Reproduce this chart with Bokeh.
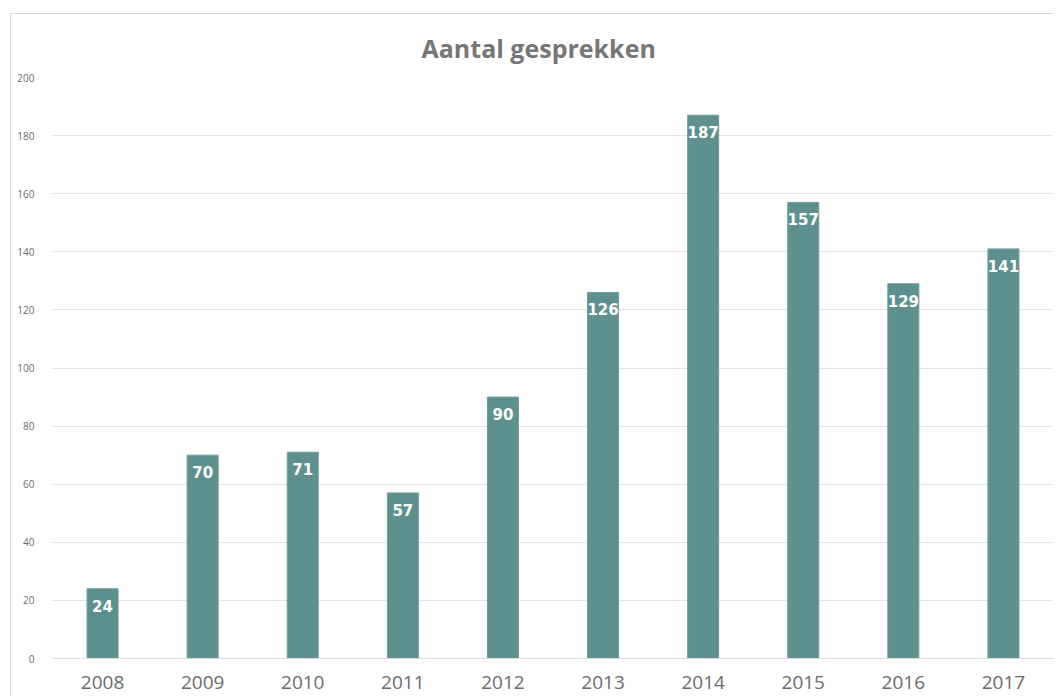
from bokeh.plotting import figure
from bokeh.models import ColumnDataSource, SingleIntervalTicker, Range1d
from bokeh.core.properties import value
from bokeh.embed import file_html
from bokeh.resources import INLINE

years = ["2008", "2009", "2010", "2011", "2012", "2013", "2014", "2015", "2016", "2017"]
counts = [24, 70, 71, 57, 90, 126, 187, 157, 129, 141]
labels = [str(c) for c in counts]

src = ColumnDataSource(dict(years=years, counts=counts, labels=labels))

p = figure(x_range=years, y_range=Range1d(0, 200), width=1043, height=683,
           output_backend="svg", toolbar_location=None,
           min_border_left=41, min_border_right=1, min_border_top=63, min_border_bottom=39,
           margin=(14, 0, 0, 11), border_fill_color="white")
p.styles = {"box-shadow": "-1px -1px 0 0 #d9d9d9"}

p.vbar(x="years", top="counts", width=0.31, source=src, fill_color="#5e9090", line_color="#6f9d9d", line_width=1)
p.text(x="years", y="counts", text="labels", source=src, text_color="white",
       text_font_size="15px", text_font_style="bold", text_align="center",
       text_baseline="top", y_offset=11, text_font=value("DejaVu Sans"))

p.title.text = "Aantal gesprekken"
p.title.align = "left"
p.title.text_font = "Open Sans"
p.title.text_font_style = "bold"
p.title.text_font_size = "25px"
p.title.text_color = "#767676"
p.title.offset = 369
p.title.standoff = 26

p.outline_line_color = None
p.xgrid.grid_line_color = None
p.ygrid.grid_line_color = "#e4e4e4"
p.ygrid.grid_line_width = 1
p.yaxis.ticker = SingleIntervalTicker(interval=20)
p.yaxis.axis_line_color = None
p.yaxis.major_tick_line_color = None
p.yaxis.minor_tick_line_color = None
p.yaxis.major_label_text_font_size = "10px"
p.yaxis.major_label_text_color = "#6b6b6b"
p.yaxis.major_label_text_font = "Open Sans"
p.yaxis.major_label_standoff = 12

p.xaxis.axis_line_color = "#dcdcdc"
p.xaxis.major_tick_line_color = None
p.xaxis.minor_tick_line_color = None
p.xaxis.major_label_text_font_size = "19px"
p.xaxis.major_label_text_color = "#6b6b6b"
p.xaxis.major_label_text_font = "Open Sans"
p.xaxis.major_label_standoff = 11

open("out.html", "w").write(file_html(p, INLINE))
